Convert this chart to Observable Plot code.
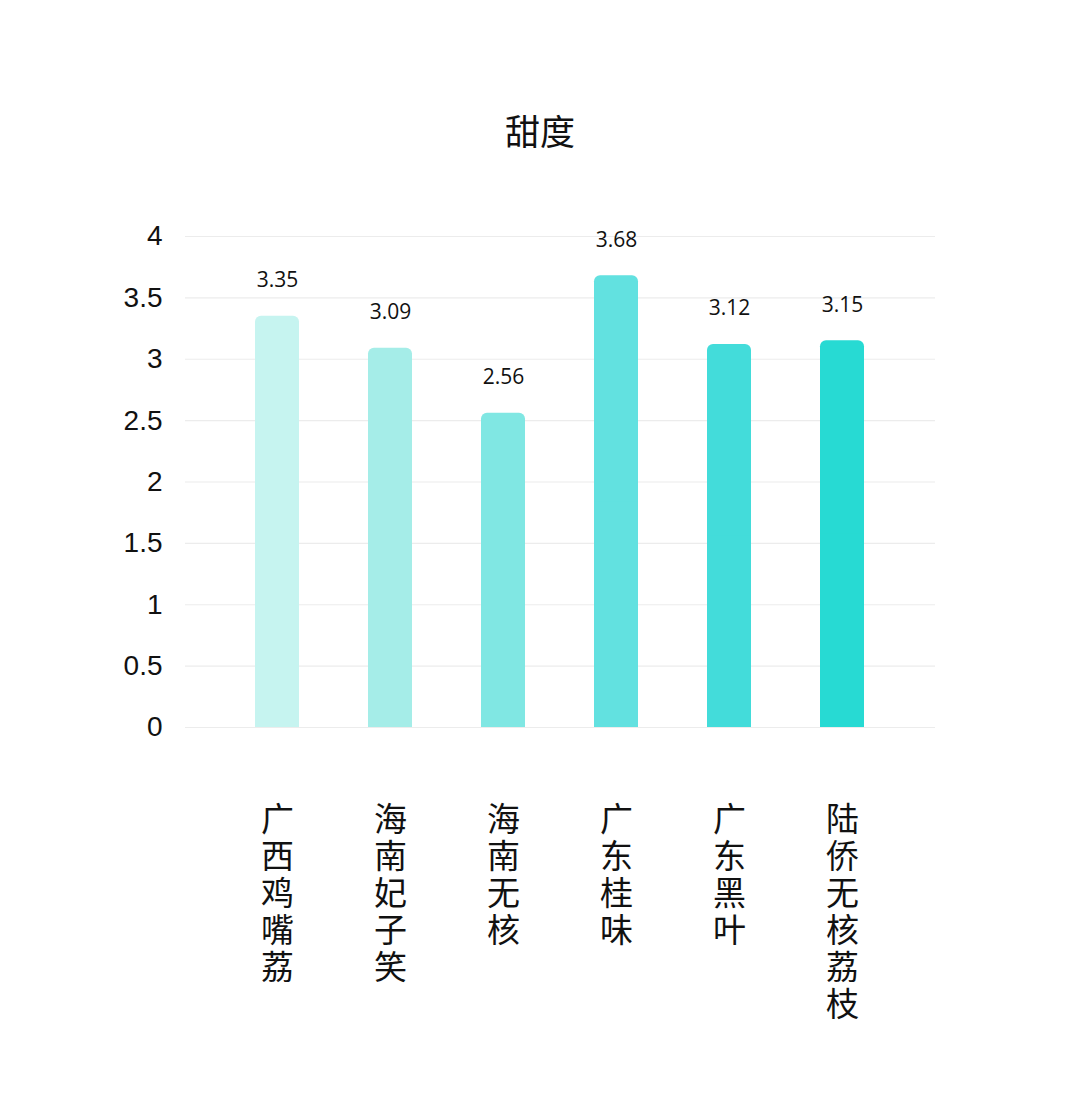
<!DOCTYPE html>
<html>
<head>
<meta charset="utf-8">
<script src="https://cdn.jsdelivr.net/npm/d3@7"></script>
<script src="https://cdn.jsdelivr.net/npm/@observablehq/plot@0.6"></script>
<style>
  body { margin: 0; background: #fff; }
  #title { width: 1080px; box-sizing: border-box; padding-top: 108px; padding-bottom: 18px; height: 170px; line-height: 44px; text-align: center; font-family: "Noto Sans CJK SC", sans-serif; font-size: 35px; color: #111; }
  #chart svg { display: block; }
</style>
</head>
<body>
<div id="title">甜度</div>
<div id="chart"></div>
<script>
const categories = ["广西鸡嘴荔", "海南妃子笑", "海南无核", "广东桂味", "广东黑叶", "陆侨无核荔枝"];
const sweetness = [3.35, 3.09, 2.56, 3.68, 3.12, 3.15];
const barColors = ["#c6f4f0", "#a5ede8", "#80e7e3", "#62e1e0", "#43dcda", "#27dad3"];
const yTicks = [0, 0.5, 1, 1.5, 2, 2.5, 3, 3.5, 4];

const data = categories.map((c, i) => ({ name: c, value: sweetness[i], color: barColors[i] }));

const chart = Plot.plot({
  width: 1080,
  height: 943,
  marginTop: 66,
  marginBottom: 386,
  marginLeft: 185,
  marginRight: 145,
  x: { domain: categories, paddingInner: 0.61, paddingOuter: 0.62, align: 0.5, label: null },
  y: { domain: [0, 4], label: null },
  marks: [
    Plot.gridY(yTicks, { stroke: "#ececec", strokeOpacity: 1, strokeWidth: 1.2 }),
    Plot.axisY(yTicks, {
      tickSize: 0, tickPadding: 23, fontSize: 28, fill: "#111", label: null,
      fontFamily: "Liberation Sans, Arial, sans-serif",
      tickFormat: d => String(d)
    }),
    Plot.axisX({
      tickSize: 0, tickPadding: 77, fontSize: 33, lineHeight: 1.12, fill: "#111", label: null,
      fontFamily: "Noto Sans CJK SC, sans-serif",
      tickFormat: d => d.split("").join("\n"),
      lineAnchor: "top"
    }),
    Plot.barY(data, { x: "name", y: "value", fill: "color", rx: 6 }),
    Plot.barY(data, { x: "name", y: d => d.value / 2, fill: "color" }),
    Plot.text(data, {
      x: "name", y: "value", text: d => d.value.toFixed(2),
      dy: -36, lineAnchor: "middle", fontSize: 21, fill: "#111",
      fontFamily: "Open Sans, sans-serif"
    })
  ]
});
document.getElementById("chart").appendChild(chart);
</script>
</body>
</html>
